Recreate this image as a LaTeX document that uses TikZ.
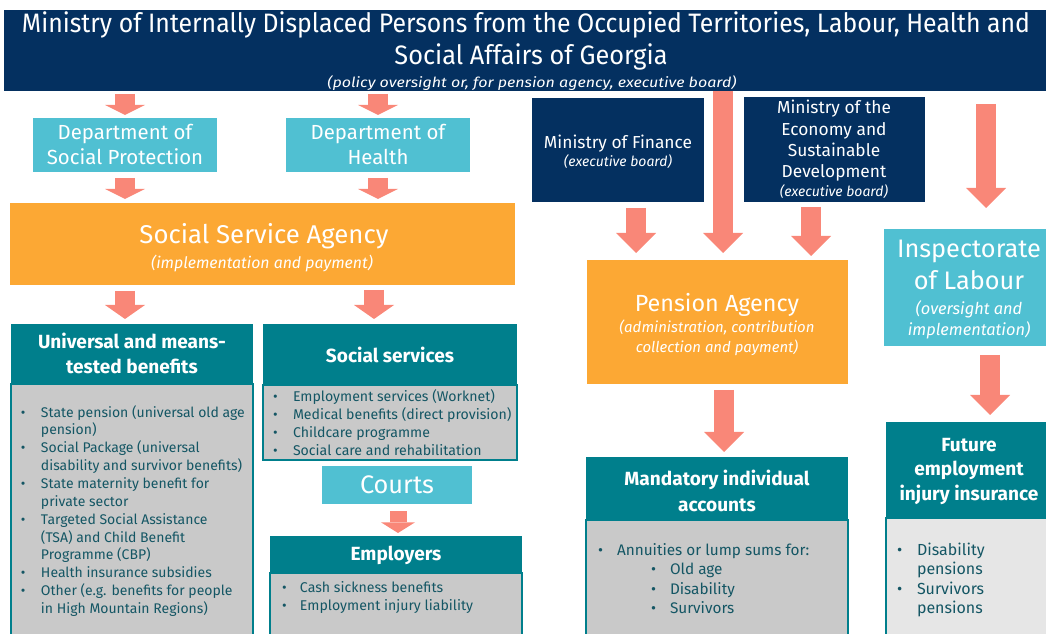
\documentclass[tikz,border=0pt]{standalone}
\usepackage{fontspec}
\usepackage{graphicx}
\setmainfont{Fira Sans}
\usetikzlibrary{arrows.meta,calc}
\definecolor{navyc}{RGB}{4,48,96}
\definecolor{cyanc}{RGB}{80,192,210}
\definecolor{orangec}{RGB}{252,168,52}
\definecolor{tealc}{RGB}{0,127,140}
\definecolor{grayc}{RGB}{201,201,201}
\definecolor{lgrayc}{RGB}{230,230,230}
\definecolor{salmonc}{RGB}{249,135,120}
\definecolor{bodyc}{RGB}{20,86,100}
\newcommand{\bx}[7]{\node[#6, anchor=north west, minimum width={(#4-#2)*0.75pt}, minimum height={(#5-#3)*0.75pt}] (#1) at (#2,#3) {#7};}
\newcommand{\fs}[2]{\fontsize{#1}{#2}\selectfont}
\newcommand{\bul}[1][15pt]{\makebox[#1][l]{\textbullet}}
\begin{document}
\begin{tikzpicture}[x=0.75pt,y=-0.75pt,
  boxb/.style={inner sep=0pt, outer sep=0pt, draw=none},
  txt/.style={inner sep=0pt, outer sep=0pt, text=white, align=center},
  navyb/.style={boxb, fill=navyc},
  cyanb/.style={boxb, fill=cyanc},
  orangeb/.style={boxb, fill=orangec},
  headb/.style={boxb, fill=tealc},
  bodyb/.style={boxb, fill=grayc, draw=tealc, line width=1.2pt},
  lbodyb/.style={boxb, fill=lgrayc, draw=tealc, line width=1.2pt},
  headt/.style={txt, font=\bfseries\fs{14.3}{18.5}},
  listt/.style={inner sep=0pt, outer sep=0pt, anchor=base west, text=bodyc},
  barrow/.style={draw=salmonc, line width=15pt, -{Triangle[width=30pt, length=#1, line width=0pt]}},
  barrow/.default=7.5pt,
  sbarrow/.style={draw=salmonc, line width=12.75pt, -{Triangle[width=25.5pt, length=8pt, line width=0pt]}}]
\useasboundingbox (0,0) rectangle (1046,634);
% boxes
\bx{banner}{4}{10}{1052}{91}{navyb}{}
\bx{dsp}{33}{118}{217}{172}{cyanb}{}
\bx{dh}{286}{118}{470}{172}{cyanb}{}
\bx{ssa}{10}{203}{515}{285}{orangeb}{}
\bx{ubody}{11}{384}{253}{642}{bodyb}{}
\bx{uhead}{11}{324}{253}{384}{headb}{}
\bx{sbody}{263}{385}{517}{460}{bodyb}{}
\bx{shead}{263}{324}{517}{385}{headb}{}
\bx{courts}{322}{466}{472}{504}{cyanb}{}
\bx{ebody}{270}{573}{522}{642}{bodyb}{}
\bx{ehead}{270}{536}{522}{573}{headb}{}
\bx{mof}{532}{98}{704}{202}{navyb}{}
\bx{moe}{744}{97}{925}{202}{navyb}{}
\bx{pa}{587}{260}{848}{384}{orangeb}{}
\bx{insp}{884}{229}{1052}{346}{cyanb}{}
\bx{mbody}{586}{520}{848}{642}{bodyb}{}
\bx{mhead}{586}{457}{848}{520}{headb}{}
\bx{fbody}{886}{518}{1052}{642}{lbodyb}{}
\bx{fhead}{886}{422}{1052}{518}{headb}{}
% texts
\node[txt, font=\fs{20}{24}] (t1) at (526,25) {\resizebox{756pt}{\height}{Ministry of Internally Displaced Persons from the Occupied Territories, Labour, Health and}};
\node[txt, font=\fs{20}{24}] (t2) at (531,57) {\resizebox{204.75pt}{\height}{Social Affairs of Georgia}};
\node[txt, font=\itshape\fs{10.5}{12}] (t3) at (532,83) {\resizebox{306.75pt}{\height}{(policy oversight or, for pension agency, executive board)}};
\node[txt, font=\fs{15.3}{18.75}] (dsp-t) at (125,144) {Department of\\Social Protection};
\node[txt, font=\fs{15.3}{18.75}] (dh-t) at (378,144) {Department of\\Health};
\node[txt, font=\fs{19.3}{24}] (ssa-t) at (264,236) {Social Service Agency};
\node[txt, font=\itshape\fs{11.9}{15}] (ssa-s) at (262,263.5) {(implementation and payment)};
\node[headt] (uhead-t) at (132,353.5) {Universal and means-\\tested benefits};
\node[headt] (shead-t) at (390,355) {Social services};
\node[headt] (ehead-t) at (396,555.5) {Employers};
\node[headt, font=\bfseries\fs{14.3}{19.5}] (mhead-t) at (717,491) {Mandatory individual\\accounts};
\node[headt] (fhead-t) at (969,471.5) {Future\\employment\\injury insurance};
\node[txt, font=\fs{13}{15}] (mof-t) at (618,144) {Ministry of Finance};
\node[txt, font=\itshape\fs{10.5}{12}] (mof-s) at (618,161.5) {(executive board)};
\node[txt, font=\fs{13}{16}] (moe-t) at (834,141) {Ministry of the\\Economy and\\Sustainable\\Development};
\node[txt, font=\itshape\fs{10.5}{12}] (moe-s) at (834,192) {(executive board)};
\node[txt, font=\fs{17.5}{21}] (pa-t) at (717,305) {Pension Agency};
\node[txt, font=\itshape\fs{11.2}{15}] (pa-s) at (717,337.5) {(administration, contribution\\collection and payment)};
\node[txt, font=\fs{19}{24}] (insp-t) at (969,265) {Inspectorate\\of Labour};
\node[txt, font=\itshape\fs{12.3}{15.5}] (insp-s) at (969,320) {(oversight and\\implementation)};
\node[txt, font=\fs{19}{22}] (courts-t) at (397,485) {Courts};
% lists
\node[listt, font=\fs{10.5}{13.4}] (ulist) at (21,417) {\begin{tabular}[t]{@{}l@{}l@{}}
\bul & State pension (universal old age\\
 & pension)\\
\bul & Social Package (universal\\
 & disability and survivor benefits)\\
\bul & State maternity benefit for\\
 & private sector\\
\bul & Targeted Social Assistance\\
 & (TSA) and Child Benefit\\
 & Programme (CBP)\\
\bul & Health insurance subsidies\\
\bul & Other (e.g. benefits for people\\
 & in High Mountain Regions)
\end{tabular}};
\node[listt, font=\fs{10.6}{13.5}] (slist) at (273,402) {\begin{tabular}[t]{@{}l@{}l@{}}
\bul & Employment services (Worknet)\\
\bul & Medical benefits (direct provision)\\
\bul & Childcare programme\\
\bul & Social care and rehabilitation
\end{tabular}};
\node[listt, font=\fs{10.6}{13.5}] (elist) at (282,592) {\begin{tabular}[t]{@{}l@{}l@{}}
\bul[13.5pt] & Cash sickness benefits\\
\bul[13.5pt] & Employment injury liability
\end{tabular}};
\node[listt, font=\fs{11.5}{14.7}] (mlist) at (598,555) {\begin{tabular}[t]{@{}l@{}l@{}}
\bul[14.25pt] & Annuities or lump sums for:\\
 & \hspace{25.5pt}\bul[14.25pt]Old age\\
 & \hspace{25.5pt}\bul[14.25pt]Disability\\
 & \hspace{25.5pt}\bul[14.25pt]Survivors
\end{tabular}};
\node[listt, font=\fs{12}{14.7}] (flist) at (897,555) {\begin{tabular}[t]{@{}l@{}l@{}}
\bul & Disability\\
 & pensions\\
\bul & Survivors\\
 & pensions
\end{tabular}};
% arrows
\draw[barrow] ($(banner.south -| dsp.north)+(0,3)$) -- ($(dsp.north)+(0,-3)$);
\draw[barrow] ($(banner.south -| dh.north)+(0,3)$) -- ($(dh.north)+(0,-3)$);
\draw[barrow] ($(dsp.south)+(0,6)$) -- ($(ssa.north -| dsp.south)+(0,-4)$);
\draw[barrow] ($(dh.south)+(0,6)$) -- ($(ssa.north -| dh.south)+(0,-4)$);
\draw[barrow=10.5pt] ($(ssa.south -| dsp.south)+(0,6)$) -- ($(uhead.north -| dsp.south)+(0,-5)$);
\draw[barrow=10.5pt] ($(ssa.south -| dh.south)+(-4,5)$) -- ($(shead.north -| dh.south)+(-4,-5)$);
\draw[sbarrow] ($(courts.south)+(1,7)$) -- ($(ehead.north -| courts.south)+(1,-3)$);
\draw[barrow=15pt] ($(banner.south -| pa.north)+(5.5,0)$) -- ($(pa.north)+(5.5,-7)$);
\draw[barrow=15pt] ($(mof.south)+(18,6)$) -- ($(pa.north -| mof.south)+(18,-7)$);
\draw[barrow=15pt] ($(moe.south)+(-23.5,5)$) -- ($(pa.north -| moe.south)+(-23.5,-4)$);
\draw[barrow=15pt] ($(banner.south -| insp.north)+(18,13)$) -- ($(insp.north)+(18,-21)$);
\draw[barrow=15pt] ($(insp.south)+(22,9)$) -- ($(fhead.north -| insp.south)+(22,-7)$);
\draw[barrow=15pt] ($(pa.south)+(6.5,6)$) -- ($(mhead.north -| pa.south)+(6.5,-5)$);
\end{tikzpicture}
\end{document}
